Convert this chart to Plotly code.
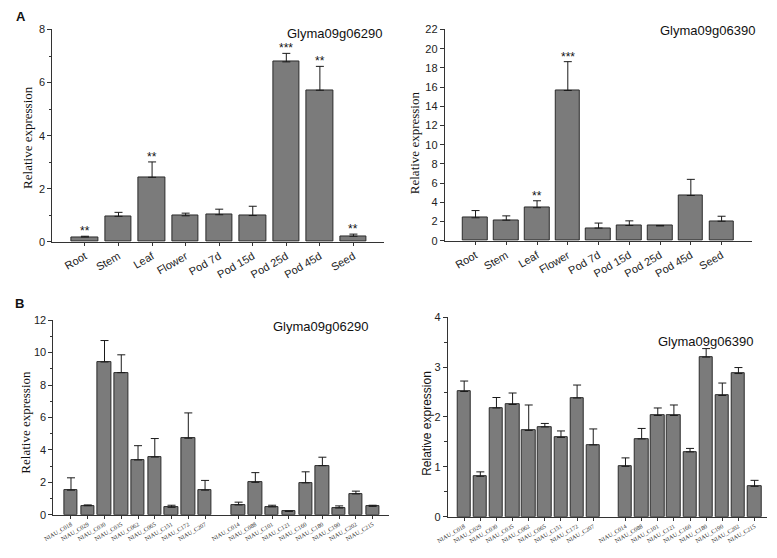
import plotly.graph_objects as go

W, H = 777, 558

# ---------------- data ----------------
tissues = ["Root", "Stem", "Leaf", "Flower", "Pod 7d", "Pod 15d", "Pod 25d", "Pod 45d", "Seed"]

a1_values = [0.18, 0.96, 2.43, 0.98, 1.02, 0.99, 6.78, 5.71, 0.21]
a1_err    = [0.03, 0.15, 0.58, 0.10, 0.21, 0.35, 0.32, 0.90, 0.08]
a1_stars  = ["**", "", "**", "", "", "", "***", "**", "**"]

a2_values = [2.40, 2.15, 3.45, 15.65, 1.33, 1.60, 1.55, 4.72, 2.04]
a2_err    = [0.75, 0.45, 0.72, 3.00, 0.52, 0.48, 0.05, 1.68, 0.52]
a2_stars  = ["", "", "**", "***", "", "", "", "", ""]

lines_group1 = ["NIAU_C018", "NIAU_C029", "NIAU_C030", "NIAU_C035", "NIAU_C062",
                "NIAU_C065", "NIAU_C151", "NIAU_C172", "NIAU_C207"]
lines_group2 = ["NIAU_C014", "NIAU_C088", "NIAU_C101", "NIAU_C121", "NIAU_C160",
                "NIAU_C180", "NIAU_C190", "NIAU_C202", "NIAU_C215"]

b1_values = [1.52, 0.56, 9.42, 8.76, 3.38, 3.56, 0.46, 4.72, 1.52,
             0.61, 2.00, 0.49, 0.22, 1.97, 3.03, 0.42, 1.29, 0.52]
b1_err    = [0.76, 0.05, 1.32, 1.10, 0.88, 1.14, 0.13, 1.56, 0.60,
             0.17, 0.60, 0.10, 0.00, 0.68, 0.52, 0.13, 0.17, 0.07]

b2_values = [2.51, 0.81, 2.18, 2.25, 1.73, 1.80, 1.59, 2.38, 1.44,
             1.01, 1.56, 2.03, 2.03, 1.30, 3.20, 2.43, 2.87, 0.61]
b2_err    = [0.21, 0.09, 0.21, 0.23, 0.51, 0.07, 0.13, 0.26, 0.32,
             0.17, 0.21, 0.15, 0.21, 0.07, 0.17, 0.25, 0.12, 0.12]

gene_a = "Glyma09g06290"
gene_b = "Glyma09g06390"
ytitle = "Relative expression"

# ---------------- style ----------------
SANS = "Liberation Sans"
SERIF = "Liberation Serif"
BAR_FILL = "#7b7b7b"
BAR_LINE = "#2b2b2b"
AX = "#333333"

def fx(p):
    return p / W

def fy(p):
    return 1 - p / H

b_labels = lines_group1 + lines_group2
b_pos = list(range(len(lines_group1))) + [len(lines_group1) + 1 + i for i in range(len(lines_group2))]

fig = go.Figure()

def add_bars(x, y, err, xa, ya, width):
    fig.add_trace(go.Bar(
        x=x, y=y, xaxis=xa, yaxis=ya, width=width,
        marker=dict(color=BAR_FILL, line=dict(color=BAR_LINE, width=1)),
        error_y=dict(type="data", symmetric=False, array=err, arrayminus=[0] * len(err),
                     color="#1a1a1a", thickness=1, width=4),
        showlegend=False, hoverinfo="x+y",
    ))

add_bars(list(range(len(tissues))), a1_values, a1_err, "x", "y", 0.79)
add_bars(list(range(len(tissues))), a2_values, a2_err, "x2", "y2", 0.8)
add_bars(b_pos, b1_values, b1_err, "x3", "y3", 0.8)
add_bars(b_pos, b2_values, b2_err, "x4", "y4", 0.83)

def xaxis(dom, rng, anchor, tickvals, ticktext, size, family):
    return dict(domain=[fx(dom[0]), fx(dom[1])], range=rng, anchor=anchor,
                showline=True, linecolor=AX, linewidth=1, ticks="outside", ticklen=3,
                tickcolor=AX, tickvals=tickvals, ticktext=ticktext, tickangle=-30,
                tickfont=dict(family=family, size=size, color="#222"),
                showgrid=False, zeroline=False, fixedrange=True)

def yaxis(dom, rng, anchor, dtick, minor_dtick):
    d = dict(domain=[fy(dom[1]), fy(dom[0])], range=rng, anchor=anchor,
             showline=True, linecolor=AX, linewidth=1, ticks="outside", ticklen=4,
             tickcolor=AX, dtick=dtick, tick0=0,
             tickfont=dict(family=SANS, size=11, color="#222"),
             showgrid=False, zeroline=False, fixedrange=True)
    if minor_dtick:
        d["minor"] = dict(dtick=minor_dtick, ticks="outside", ticklen=2.5, tickcolor=AX, showgrid=False)
    return d

tidx = list(range(len(tissues)))
fig.update_layout(
    width=W, height=H, margin=dict(l=0, r=0, t=0, b=0),
    paper_bgcolor="white", plot_bgcolor="white", bargap=0,
    xaxis=xaxis((42, 378), [-0.97, 8.9], "y", tidx, tissues, 11, SANS),
    yaxis=yaxis((24, 241), [0, 8], "x", 2, 1),
    xaxis2=xaxis((440, 752), [-1.0, 9.0], "y2", tidx, tissues, 11, SANS),
    yaxis2=yaxis((24, 240), [0, 22], "x2", 2, None),
    xaxis3=xaxis((43, 383), [-1.05, 18.95], "y3", b_pos, b_labels, 6, SERIF),
    yaxis3=yaxis((321, 520), [0, 12], "x3", 2, 1),
    xaxis4=xaxis((443, 767), [-1.02, 18.78], "y4", b_pos, b_labels, 6, SERIF),
    yaxis4=yaxis((318, 522), [0, 4], "x4", 1, 0.5),
)

ann = []
ann.append(dict(text="<b>A</b>", x=fx(3), y=fy(1), xref="paper", yref="paper",
                xanchor="left", yanchor="top", showarrow=False,
                font=dict(family=SANS, size=13, color="#111")))
ann.append(dict(text="<b>B</b>", x=fx(2), y=fy(294), xref="paper", yref="paper",
                xanchor="left", yanchor="top", showarrow=False,
                font=dict(family=SANS, size=13, color="#111")))
for txt, x, y in [(gene_a, 328, 28), (gene_b, 706, 25), (gene_a, 314, 328), (gene_b, 704, 343)]:
    ann.append(dict(text=txt, x=fx(x), y=fy(y), xref="paper", yref="paper",
                    xanchor="center", yanchor="middle", showarrow=False,
                    font=dict(family=SANS, size=13, color="#111")))
for x, y, fam in [(16, 134, SERIF), (410, 140, SERIF), (15, 425, SERIF), (422, 427, SANS)]:
    ann.append(dict(text=ytitle, x=fx(x), y=fy(y), xref="paper", yref="paper",
                    xanchor="center", yanchor="middle", textangle=-90, showarrow=False,
                    font=dict(family=fam, size=13 if fam == SERIF else 12, color="#111")))
for xa, ya, vals, errs, stars in [("x", "y", a1_values, a1_err, a1_stars),
                                  ("x2", "y2", a2_values, a2_err, a2_stars)]:
    for i, s in enumerate(stars):
        if s:
            ann.append(dict(text=s, x=i, y=vals[i] + errs[i], xref=xa, yref=ya,
                            xanchor="center", yanchor="bottom", yshift=-4, showarrow=False,
                            font=dict(family=SANS, size=12, color="#111")))
fig.update_layout(annotations=ann)

fig.write_html("out.html", config={"displayModeBar": False},
               post_script="document.body.style.margin='0';document.body.style.padding='0';")
